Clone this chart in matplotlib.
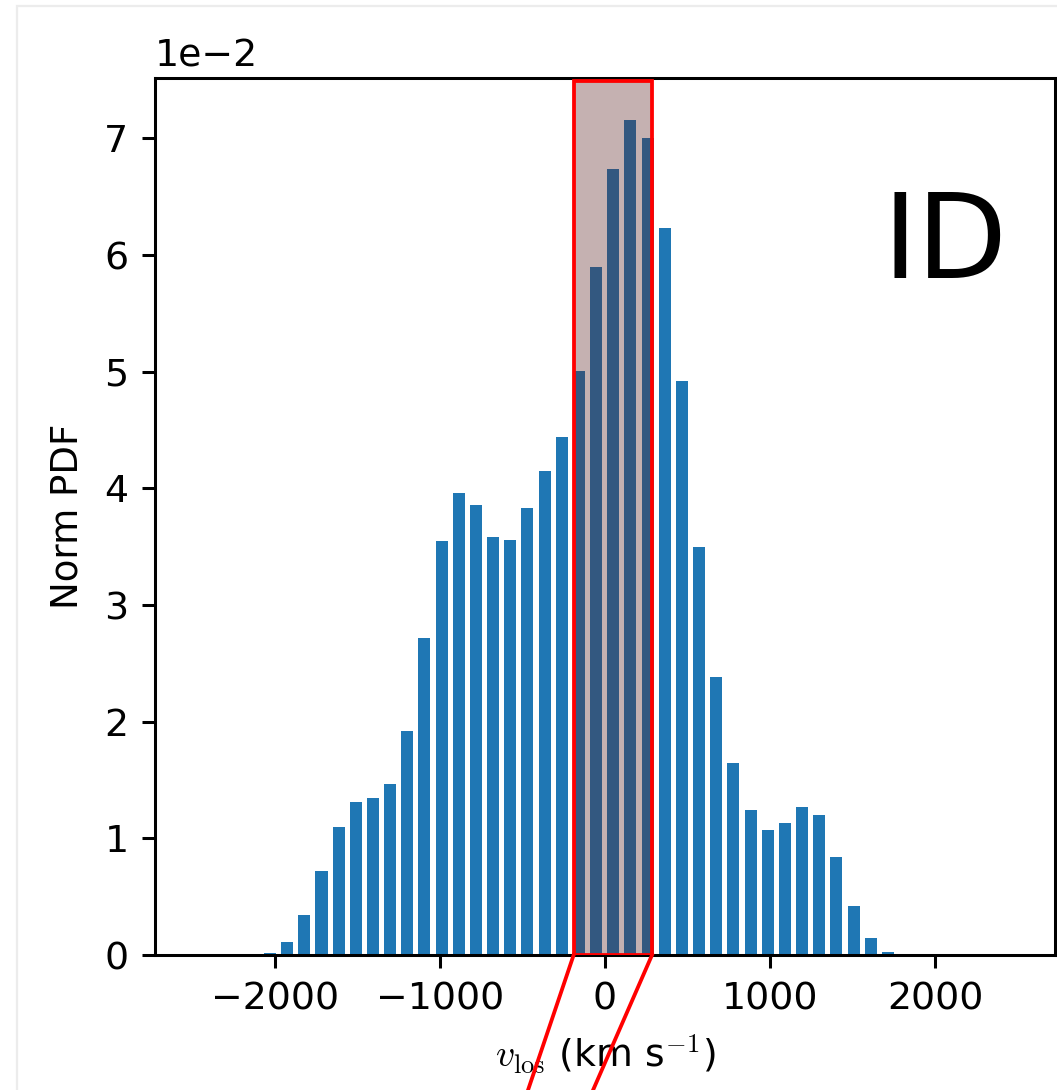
import numpy as np
import matplotlib.pyplot as plt
from matplotlib.patches import Rectangle
from matplotlib.lines import Line2D

plt.rcParams['mathtext.fontset'] = 'cm'

# line-of-sight velocity histogram (bin heights in units of 1e-2)
bin_start = -2030.0
bin_width = 104.0
pdf_vals = [0.02, 0.11, 0.34, 0.72, 1.10, 1.31, 1.35, 1.47, 1.92, 2.72,
            3.55, 3.96, 3.86, 3.58, 3.56, 3.83, 4.15, 4.44, 5.01, 5.90,
            6.74, 7.16, 7.00, 6.23, 4.92, 3.50, 2.38, 1.65, 1.24, 1.07,
            1.13, 1.27, 1.20, 0.84, 0.42, 0.15, 0.03]
xticks = [-2000, -1000, 0, 1000, 2000]

# zoom window and where its connector lines leave the figure
zoom_x = (-190, 285)
zoom_top = 7.49e-2
conn_ends = [(-467, -1.16e-2), (-73, -1.16e-2)]

heights = np.array(pdf_vals) * 1e-2
centers = bin_start + bin_width * np.arange(len(heights))

fig = plt.figure(figsize=(1057 / 273, 1090 / 273), dpi=273)
ax = fig.add_axes([155 / 1057, 135 / 1090, 900 / 1057, 877 / 1090])

ax.bar(centers, heights, width=0.7 * bin_width, color='#1f77b4')
ax.set_xlim(-2727, 2727)
ax.set_ylim(0, None)
ax.set_xticks(xticks)
ax.ticklabel_format(axis='y', style='sci', scilimits=(0, 0))

ax.set_xlabel(r'$v_{\rm los}$ (km s$^{-1}$)')
ax.set_ylabel('Norm PDF', fontsize=9.8, labelpad=5)

# shaded zoom region
box = Rectangle((zoom_x[0], 0), zoom_x[1] - zoom_x[0], zoom_top,
                facecolor=(0.353, 0.125, 0.125, 0.35), edgecolor='red',
                lw=1.0, zorder=3)
ax.add_patch(box)
for x0, (x1, y1) in zip(zoom_x, conn_ends):
    ax.add_line(Line2D([x0, x1], [0, y1], color='red', lw=1.0,
                       clip_on=False, zorder=3))

fig.text(882 / 1057, (1090 - 278) / 1090, 'ID', fontsize=31,
         ha='left', va='baseline')

# faint frame around the panel
fig.patches.append(Rectangle((17 / 1057, -0.1), 1.2, (1084 / 1090) + 0.1,
                             transform=fig.transFigure, fill=False,
                             edgecolor='#ececec', lw=0.6))

fig.savefig('out.png', dpi=273)
